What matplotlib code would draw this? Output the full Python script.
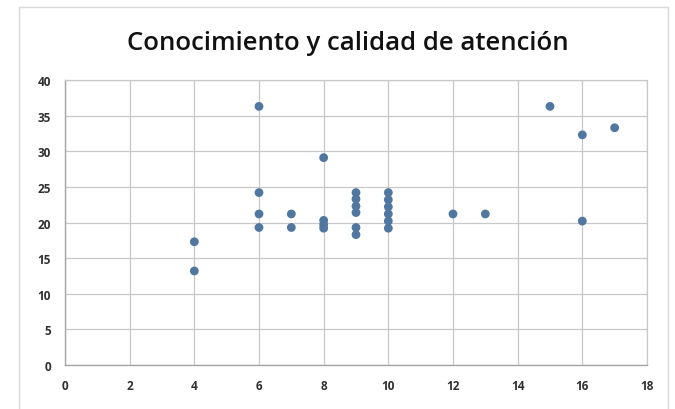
import matplotlib
matplotlib.use("Agg")
import matplotlib.pyplot as plt
from matplotlib.patches import Rectangle

# Knowledge score (x) vs. quality-of-care score (y)
conocimiento = [4, 4,
                6, 6, 6, 6,
                7, 7,
                8, 8, 8, 8,
                9, 9, 9, 9, 9, 9,
                10, 10, 10, 10, 10, 10,
                12, 13,
                15, 16, 16, 17]
calidad = [17.3, 13.2,
           36.3, 24.2, 21.2, 19.3,
           21.2, 19.3,
           29.1, 20.3, 19.7, 19.2,
           24.2, 23.3, 22.3, 21.4, 19.3, 18.3,
           24.2, 23.2, 22.2, 21.2, 20.2, 19.2,
           21.2, 21.2,
           36.3, 32.3, 20.2, 33.3]

x_ticks = [0, 2, 4, 6, 8, 10, 12, 14, 16, 18]
y_ticks = [0, 5, 10, 15, 20, 25, 30, 35, 40]
titulo = "Conocimiento y calidad de atención"

plt.rcParams["font.family"] = ["Open Sans", "DejaVu Sans"]

fig = plt.figure(figsize=(6.75, 4.10), dpi=100)
fig.patch.set_facecolor("white")

# light frame around the whole chart area
fig.patches.append(Rectangle((0.028, -0.02), 0.962, 1.0, transform=fig.transFigure,
                             fill=False, edgecolor="#d9d9d9", linewidth=1.0))

ax = fig.add_axes([0.0963, 0.1073, 0.8622, 0.6951])
ax.scatter(conocimiento, calidad, s=40, color="#50779F", edgecolors="none", zorder=3)

ax.set_xlim(0, 18)
ax.set_ylim(0, 40)
ax.set_xticks(x_ticks)
ax.set_yticks(y_ticks)
ax.set_xticklabels([str(t) for t in x_ticks])
ax.set_yticklabels([str(t) for t in y_ticks])
ax.grid(True, color="#c8c8c8", linewidth=0.9)
ax.set_axisbelow(True)
ax.tick_params(length=0, labelsize=8.5, colors="#303030", pad=10)
for lbl in ax.get_xticklabels() + ax.get_yticklabels():
    lbl.set_fontweight("bold")
for side in ("top", "right"):
    ax.spines[side].set_color("#c8c8c8")
    ax.spines[side].set_linewidth(0.9)
for side in ("left", "bottom"):
    ax.spines[side].set_color("#a6a6a6")
    ax.spines[side].set_linewidth(1.0)

fig.text(0.515, 0.895, titulo, ha="center", va="center", fontsize=18.5,
         color="#111111", fontweight="semibold")

fig.savefig("out.png", dpi=100, facecolor="white")
